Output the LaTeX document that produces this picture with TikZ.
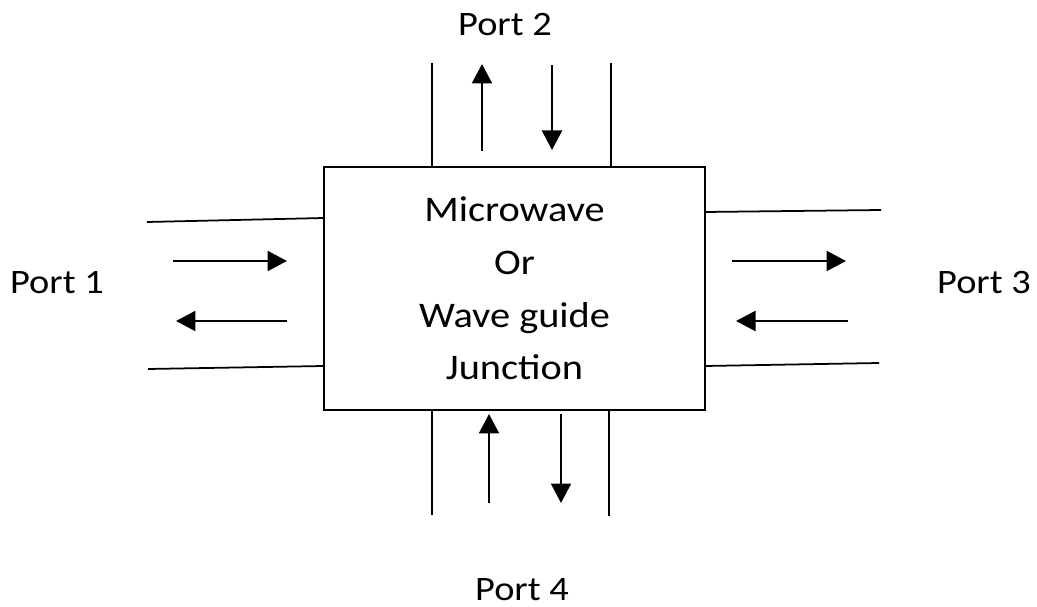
\documentclass[tikz,border=0pt]{standalone}
\usepackage{fontspec}
\setmainfont{Carlito}[FakeStretch=1.12]
\usetikzlibrary{arrows.meta, positioning}

\tikzset{
  wall/.style={line width=1pt},
  flow/.style={line width=1.3pt, -{Triangle[length=3.9mm, width=4mm]}},
  portlabel/.style={font=\fontsize{19.5}{23}\selectfont}
}

\begin{document}
\begin{tikzpicture}[x=0.02cm, y=-0.02cm]
  \useasboundingbox (0,0) rectangle (1037,607);

  % Junction box
  \node[draw, wall, minimum width=7.62cm, minimum height=4.86cm, inner sep=0pt,
        align=center, font=\fontsize{20.5}{30}\selectfont]
    (junc) at (514.5,288.5) {Microwave\\Or\\Wave guide\\Junction};

  % Port 1 (left)
  \coordinate (p1ua) at (147,222);  \coordinate (p1ub) at (324,218);
  \coordinate (p1la) at (148,369);  \coordinate (p1lb) at (324,366);
  \draw[wall] (p1ua) -- (p1ub);
  \draw[wall] (p1la) -- (p1lb);
  \coordinate (p1ina) at (173,261); \coordinate (p1inb) at (287,261);
  \coordinate (p1outa) at (287,321); \coordinate (p1outb) at (176,321);
  \draw[flow] (p1ina) -- (p1inb);
  \draw[flow] (p1outa) -- (p1outb);
  \node[portlabel] (port1) at (57,283) {Port 1};

  % Port 3 (right)
  \coordinate (p3ua) at (705,212);  \coordinate (p3ub) at (881,210);
  \coordinate (p3la) at (705,366);  \coordinate (p3lb) at (879,363);
  \draw[wall] (p3ua) -- (p3ub);
  \draw[wall] (p3la) -- (p3lb);
  \coordinate (p3outa) at (732,261); \coordinate (p3outb) at (846,261);
  \coordinate (p3ina) at (848,321);  \coordinate (p3inb) at (736,321);
  \draw[flow] (p3outa) -- (p3outb);
  \draw[flow] (p3ina) -- (p3inb);
  \node[portlabel] (port3) at (984,283) {Port 3};

  % Port 2 (top)
  \coordinate (p2la) at (432,63);  \coordinate (p2lb) at (432,167);
  \coordinate (p2ra) at (611,63);  \coordinate (p2rb) at (611,167);
  \draw[wall] (p2la) -- (p2lb);
  \draw[wall] (p2ra) -- (p2rb);
  \coordinate (p2outa) at (482,151); \coordinate (p2outb) at (482,64);
  \coordinate (p2ina) at (552,65);   \coordinate (p2inb) at (552,150);
  \draw[flow] (p2outa) -- (p2outb);
  \draw[flow] (p2ina) -- (p2inb);
  \node[portlabel] (port2) at (505,25) {Port 2};

  % Port 4 (bottom)
  \coordinate (p4la) at (432,410);  \coordinate (p4lb) at (432,515);
  \coordinate (p4ra) at (609,410);  \coordinate (p4rb) at (609,516);
  \draw[wall] (p4la) -- (p4lb);
  \draw[wall] (p4ra) -- (p4rb);
  \coordinate (p4ina) at (489,503);  \coordinate (p4inb) at (489,414);
  \coordinate (p4outa) at (561,414); \coordinate (p4outb) at (561,503);
  \draw[flow] (p4ina) -- (p4inb);
  \draw[flow] (p4outa) -- (p4outb);
  \node[portlabel] (port4) at (522,590) {Port 4};
\end{tikzpicture}
\end{document}
